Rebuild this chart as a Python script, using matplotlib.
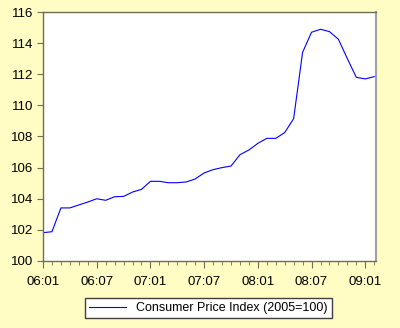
import numpy as np
import matplotlib
matplotlib.use('Agg')
import matplotlib.pyplot as plt

plt.rcParams['font.family'] = ['Liberation Sans', 'DejaVu Sans']

# monthly CPI, 2006:01 - 2009:02
cpi = [101.82, 101.88, 103.41, 103.41, 103.60, 103.79, 104.00, 103.90,
       104.13, 104.15, 104.43, 104.60, 105.12, 105.12, 105.03, 105.03,
       105.08, 105.27, 105.66, 105.87, 106.00, 106.10, 106.83, 107.13,
       107.56, 107.88, 107.88, 108.25, 109.15, 113.41, 114.70, 114.89,
       114.74, 114.25, 113.00, 111.80, 111.70, 111.85]
tick_labels = ['06:01', '06:07', '07:01', '07:07', '08:01', '08:07', '09:01']
y_ticks = [100, 102, 104, 106, 108, 110, 112, 114, 116]
series_name = 'Consumer Price Index (2005=100)'

bg = '#FFFCC4'
edge = '#6E6E50'

fig = plt.figure(figsize=(4.0, 3.28), dpi=100, facecolor=bg)
ax = fig.add_axes([0.1075, 0.2043, 0.8325, 0.7591])
ax.set_facecolor('white')

x = np.arange(len(cpi))
ax.plot(x, cpi, color='#0000FF', lw=0.8, label=series_name)

ax.set_xlim(0, 37.2)
ax.set_ylim(100, 116)
ax.set_yticks(y_ticks)
ax.set_xticks(np.arange(0, 37, 6))
ax.set_xticklabels(tick_labels)
ax.set_xticks(np.arange(0, 38), minor=True)

for s in ax.spines.values():
    s.set_color(edge)
    s.set_linewidth(1.0)
ax.spines['right'].set_color('#A0A0A0')
ax.spines['right'].set_linewidth(1.5)

ax.tick_params(axis='both', which='major', direction='out', length=4,
               width=0.8, color=edge, labelsize=9.5, labelcolor='black', pad=3)
ax.tick_params(axis='x', which='minor', direction='out', length=3,
               width=0.6, color=edge)
ax.tick_params(axis='x', which='major', length=5, pad=6)

fig.legend(loc='center', bbox_to_anchor=(0.521, 0.061), fontsize=9,
           frameon=True, fancybox=False, edgecolor='#404040',
           facecolor='white', framealpha=1, handlelength=3.0,
           borderpad=0.35)

fig.savefig('out.png', dpi=100, facecolor=bg)
